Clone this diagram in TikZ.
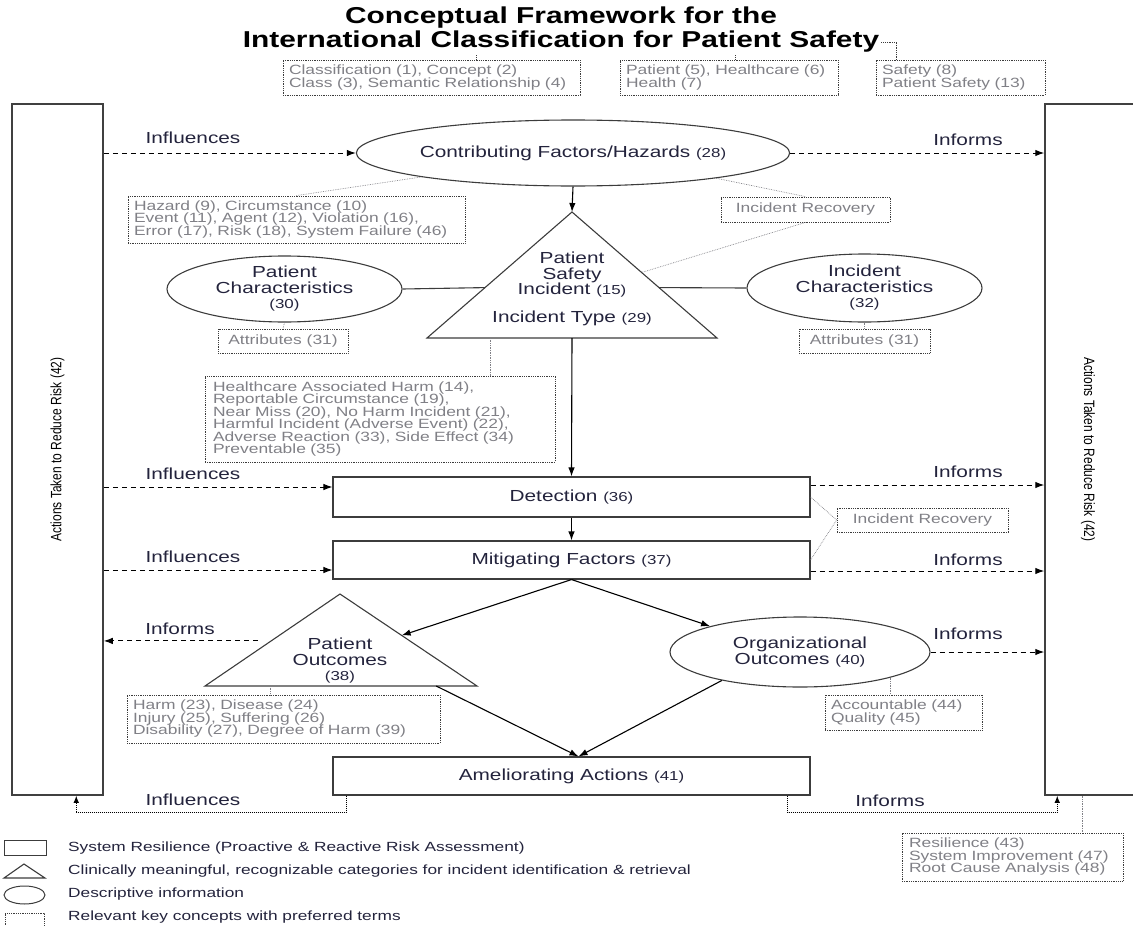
\documentclass[tikz,border=0pt]{standalone}
\usepackage{fontspec}
\setmainfont{Liberation Sans}[FakeStretch=1.3]
\newfontfamily\sidefont{Liberation Sans}[FakeStretch=0.8]
\usetikzlibrary{shapes.geometric,calc,arrows.meta}

\definecolor{inkblue}{RGB}{35,35,60}
\definecolor{keygray}{RGB}{128,128,134}
\definecolor{edgegray}{RGB}{60,60,60}

\newcommand{\nr}[1]{{\fontsize{13}{13}\selectfont(#1)}}

\tikzset{
	titletext/.style={font=\fontsize{23}{24}\bfseries\selectfont, text=black, inner sep=2pt},
	lbl/.style={font=\fontsize{16}{15.5}\selectfont, text=inkblue, align=center},
	stepbox/.style={draw=edgegray, line width=1.1pt, minimum width=477pt, lbl},
	descr/.style={draw=edgegray, ellipse, line width=1.1pt, inner sep=0pt, lbl},
	shapeline/.style={draw=edgegray, line width=1.1pt},
	keybox/.style={draw=edgegray, densely dotted, line width=0.8pt, align=left, text=keygray,
		font=\fontsize{13.4}{12.5}\selectfont, inner xsep=6pt, inner ysep=2pt},
	keyline/.style={draw=keygray, densely dotted, line width=0.7pt},
	titleline/.style={draw=edgegray, densely dotted, line width=0.8pt},
	flow/.style={->, >={Latex[length=9pt,width=6.5pt]}, line width=1.1pt},
	feed/.style={->, >={Latex[length=9pt,width=6.5pt]}, dash pattern=on 5pt off 4pt, line width=1pt},
	loopback/.style={->, >={Latex[length=7pt,width=5.5pt]}, densely dotted, line width=1pt},
	side/.style={draw=black!75, line width=1.5pt, minimum height=691pt},
	sidelbl/.style={font=\sidefont\fontsize{15}{15}\selectfont, text=black},
	legtext/.style={font=\fontsize{13.3}{13}\selectfont, text=inkblue, anchor=west, inner sep=0pt}
}

\begin{document}
\begin{tikzpicture}[x=1pt, y=-1pt]
	\useasboundingbox (0,0) rectangle (1133,926);

	% title and its key concepts
	\node[titletext] (titleA) at (561,18) {Conceptual Framework for the};
	\node[titletext] (titleB) at (561,42) {International Classification for Patient Safety};
	\node[keybox, minimum width=297pt, minimum height=35pt, text width=285pt] (kcA) at (431.5,77.5) {Classification (1), Concept (2)\\Class (3), Semantic Relationship (4)};
	\node[keybox, minimum width=218pt, minimum height=35pt, text width=206pt] (kcB) at (729,77.5) {Patient (5), Healthcare (6)\\Health (7)};
	\node[keybox, minimum width=169pt, minimum height=35pt, text width=157pt] (kcC) at (960.5,77.5) {Safety (8)\\Patient Safety (13)};
	\coordinate (kcAtop) at ($(kcA.north)+(45,0)$);
	\coordinate (kcBtop) at ($(kcB.north)+(6,0)$);
	\coordinate (kcCtop) at ($(kcC.north)+(-64,0)$);
	\draw[titleline] (kcAtop) -- (kcAtop |- titleB.south);
	\draw[titleline] (kcBtop) -- (kcBtop |- titleB.south);
	\draw[titleline] (titleB.east) -| (kcCtop);

	% side boxes
	\node[side, minimum width=91pt] (leftSide) at (57.5,449.5) {};
	\node[side, minimum width=95pt] (rightSide) at (1092.5,449.5) {};
	\node[sidelbl, rotate=90] (leftLbl) at (57.5,449.5) {Actions Taken to Reduce Risk (42)};
	\node[sidelbl, rotate=-90] (rightLbl) at (1088,449.5) {Actions Taken to Reduce Risk (42)};

	% contributing factors
	\node[descr, minimum width=410pt, minimum height=66pt] (cf) at (573,153) {Contributing Factors/Hazards \nr{28}};
	\node[keybox, minimum width=337pt, minimum height=47pt, text width=325pt] (hazBox) at (296.5,219.5) {Hazard (9), Circumstance (10)\\Event (11), Agent (12), Violation (16),\\Error (17), Risk (18), System Failure (46)};
	\node[keybox, minimum width=169pt, minimum height=25pt, align=center] (recA) at (805.5,209.5) {Incident Recovery};
	\draw[keyline] (cf.189) -- (hazBox.north);
	\draw[keyline] (cf.-10) -- (recA.north);

	% patient safety incident
	\coordinate (psiTop) at (572,212);
	\coordinate (psiL) at (427,338);
	\coordinate (psiR) at (717,338);
	\draw[shapeline] (psiTop) -- (psiL) -- (psiR) -- cycle;
	\node[lbl, inner sep=0pt] (psiText) at (572,275) {Patient\\Safety\\Incident \nr{15}};
	\node[lbl, inner sep=0pt] (psiType) at (572,318) {Incident Type \nr{29}};
	\coordinate (psiW) at ($(psiTop)!0.6!(psiL)$);
	\coordinate (psiE) at ($(psiTop)!0.6!(psiR)$);
	\coordinate (psiRec) at ($(psiTop)!0.48!(psiR)$);
	\coordinate (psiKey) at ($(psiL)!0.22!(psiR)$);
	\coordinate (psiOut) at ($(psiL)!0.5!(psiR)$);
	\draw[flow] (cf.south) -- (psiTop);
	\draw[keyline] (recA.south) -- (psiRec);

	\node[descr, minimum width=235pt, minimum height=66pt] (patChar) at (284.5,289) {Patient\\Characteristics\\\nr{30}};
	\node[descr, minimum width=235pt, minimum height=68pt] (incChar) at (864.5,288) {Incident\\Characteristics\\\nr{32}};
	\node[keybox, minimum width=130pt, minimum height=24pt, align=center] (attrA) at (283,341) {Attributes (31)};
	\node[keybox, minimum width=131pt, minimum height=24pt, align=center] (attrB) at (864.5,341) {Attributes (31)};
	\draw[shapeline] (patChar.east) -- (psiW);
	\draw[shapeline] (incChar.west) -- (psiE);
	\draw[keyline] (patChar.south) -- (attrA.north);
	\draw[keyline] (incChar.south) -- (attrB.north);

	\node[keybox, minimum width=350pt, minimum height=86pt, text width=334pt, inner xsep=8pt] (incBox) at (380,419) {Healthcare Associated Harm (14),\\Reportable Circumstance (19),\\Near Miss (20), No Harm Incident (21),\\Harmful Incident (Adverse Event) (22),\\Adverse Reaction (33), Side Effect (34)\\Preventable (35)};
	\draw[keyline] (psiKey) -- (psiKey |- incBox.north);

	% detection and mitigation
	\node[stepbox, minimum height=40pt] (det) at (571.5,497) {Detection \nr{36}};
	\node[stepbox, minimum height=38pt] (mit) at (571.5,560) {Mitigating Factors \nr{37}};
	\node[keybox, minimum width=171pt, minimum height=24pt, align=center] (recB) at (922.5,520) {Incident Recovery};
	\draw[flow] (psiOut) -- (det.north);
	\draw[flow] (det.south) -- (mit.north);
	\draw[keyline] (det.east) -- (recB.west) -- (mit.east);

	% outcomes
	\coordinate (poTop) at (340,594);
	\coordinate (poL) at (205,686);
	\coordinate (poR) at (477,686);
	\draw[shapeline] (poTop) -- (poL) -- (poR) -- cycle;
	\node[lbl, inner sep=0pt] (poText) at (340,661) {Patient\\Outcomes\\\nr{38}};
	\coordinate (poIn) at ($(poTop)!0.45!(poR)$);
	\coordinate (poInf) at ($(poTop)!0.51!(poL)+(-13,0)$);
	\coordinate (poKey) at ($(poL)!0.24!(poR)$);
	\coordinate (poOut) at ($(poL)!0.85!(poR)$);
	\node[descr, minimum width=260pt, minimum height=70pt] (org) at (800,652) {Organizational\\Outcomes \nr{40}};
	\node[keybox, minimum width=313pt, minimum height=48pt, text width=301pt] (harmBox) at (283.5,719) {Harm (23), Disease (24)\\Injury (25), Suffering (26)\\Disability (27), Degree of Harm (39)};
	\node[keybox, minimum width=157pt, minimum height=35pt, text width=145pt] (accBox) at (903.5,712.5) {Accountable (44)\\Quality (45)};
	\draw[flow] (mit.south) -- (poIn);
	\draw[flow] (mit.south) -- (org.164);
	\draw[keyline] (poKey) -- (poKey |- harmBox.north);
	\draw[keyline] (org.-16) -- (org.-16 |- accBox.north);

	% ameliorating actions
	\node[stepbox, minimum height=38pt] (am) at (571.5,776) {Ameliorating Actions \nr{41}};
	\coordinate (amIn) at ($(am.north)+(7,0)$);
	\draw[flow] (poOut) -- (amIn);
	\draw[flow] (org.200) -- (amIn);
	\coordinate (amL) at ($(am.south west)+(14,0)$);
	\coordinate (amR) at ($(am.south east)+(-23,0)$);
	\draw[loopback] (amL) -- ++(0,17) -| ($(leftSide.south west)+(65,0)$);
	\draw[loopback] (amR) -- ++(0,17) -| ($(rightSide.south west)+(13,0)$);
	\node[keybox, minimum width=221pt, minimum height=48pt, text width=207pt, inner xsep=7pt] (resBox) at (1012.5,857) {Resilience (43)\\System Improvement (47)\\Root Cause Analysis (48)};
	\coordinate (sideKey) at ($(rightSide.south west)+(38,0)$);
	\draw[keyline] (sideKey) -- (sideKey |- resBox.north);

	% influences and informs
	\coordinate (detIn) at ($(det.west)+(0,-10)$);
	\coordinate (detOut) at ($(det.east)+(0,-12)$);
	\coordinate (mitIn) at ($(mit.west)+(0,10)$);
	\coordinate (mitOut) at ($(mit.east)+(0,11)$);
	\draw[feed] (leftSide.east |- cf.west) -- (cf.west);
	\draw[feed] (cf.east) -- (rightSide.west |- cf.east);
	\draw[feed] (leftSide.east |- detIn) -- (detIn);
	\draw[feed] (detOut) -- (rightSide.west |- detOut);
	\draw[feed] (leftSide.east |- mitIn) -- (mitIn);
	\draw[feed] (mitOut) -- (rightSide.west |- mitOut);
	\draw[feed] (poInf) -- (leftSide.east |- poInf);
	\draw[feed] (org.east) -- (rightSide.west |- org.east);
	\node[lbl] (infA) at (193,138) {Influences};
	\node[lbl] (infB) at (193,474) {Influences};
	\node[lbl] (infC) at (193,557) {Influences};
	\node[lbl] (infD) at (193,800) {Influences};
	\node[lbl] (insA) at (968,140) {Informs};
	\node[lbl] (insB) at (968,472) {Informs};
	\node[lbl] (insC) at (968,560) {Informs};
	\node[lbl] (insD) at (968,634) {Informs};
	\node[lbl] (insE) at (180,629) {Informs};
	\node[lbl] (insF) at (890,801) {Informs};

	% legend
	\node[draw=edgegray, line width=1pt, minimum width=42pt, minimum height=15pt, inner sep=0pt] (legRect) at (25,847.5) {};
	\coordinate (legTop) at (24,864);
	\coordinate (legL) at (4,878);
	\coordinate (legR) at (45,878);
	\draw[shapeline] (legTop) -- (legL) -- (legR) -- cycle;
	\node[draw=edgegray, ellipse, line width=1pt, minimum width=41pt, minimum height=18pt, inner sep=0pt] (legEll) at (24.5,895) {};
	\node[draw=edgegray, densely dotted, line width=0.8pt, minimum width=39pt, minimum height=24pt, inner sep=0pt] (legKey) at (24.5,925) {};
	\node[legtext] (legA) at (68,848) {System Resilience (Proactive \& Reactive Risk Assessment)};
	\node[legtext] (legB) at (68,871) {Clinically meaningful, recognizable categories for incident identification \& retrieval};
	\node[legtext] (legC) at (68,894) {Descriptive information};
	\node[legtext] (legD) at (68,917) {Relevant key concepts with preferred terms};
\end{tikzpicture}
\end{document}
